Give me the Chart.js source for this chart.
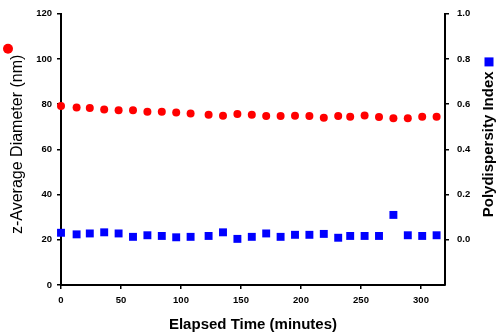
<!DOCTYPE html>
<html>
<head>
<meta charset="utf-8">
<script src="https://cdn.jsdelivr.net/npm/chart.js@4/dist/chart.umd.min.js"></script>
<style>
  html, body { margin: 0; padding: 0; background: #fff; }
  #wrap { width: 500px; height: 336px; position: relative; }
</style>
</head>
<body>
<div id="wrap"><canvas id="c" width="500" height="336"></canvas></div>
<script>
// Elapsed time of each measurement (minutes)
const elapsedMinutes = [0, 13, 24, 36, 48, 60, 72, 84, 96, 108, 123, 135, 147, 159, 171, 183, 195, 207, 219, 231, 241, 253, 265, 277, 289, 301, 313];
// z-average hydrodynamic diameter (nm)
const zAverageNm = [79.2, 78.5, 78.3, 77.6, 77.3, 77.3, 76.6, 76.6, 76.3, 75.9, 75.3, 74.9, 75.6, 75.3, 74.7, 74.7, 74.9, 74.7, 74.0, 74.7, 74.4, 75.0, 74.3, 73.8, 73.8, 74.4, 74.4];
// Polydispersity index
const polyIndex = [0.031, 0.024, 0.028, 0.033, 0.028, 0.013, 0.020, 0.017, 0.011, 0.013, 0.017, 0.033, 0.004, 0.013, 0.028, 0.013, 0.022, 0.022, 0.026, 0.009, 0.017, 0.017, 0.017, 0.110, 0.020, 0.017, 0.020];

// Axis ticks
const timeTicks = [0, 50, 100, 150, 200, 250, 300];
const diameterTicks = [0, 20, 40, 60, 80, 100, 120];
const pdiTicks = [0.0, 0.2, 0.4, 0.6, 0.8, 1.0];

const xTitle = 'Elapsed Time (minutes)';
const leftTitle = 'z-Average Diameter (nm)';
const rightTitle = 'Polydispersity Index';

const FONT = "'Liberation Sans', Arial, Helvetica, sans-serif";
Chart.defaults.font.family = FONT;
Chart.defaults.color = '#000';

const toPoints = (xs, ys) => xs.map((x, i) => ({ x: x, y: ys[i] }));

// Rotated side titles with their series markers
const sideTitles = {
  id: 'sideTitles',
  afterDraw(chart) {
    const ctx = chart.ctx;
    const area = chart.chartArea;
    const cy = (area.top + area.bottom) / 2 - 5;
    ctx.save();
    ctx.fillStyle = '#000';
    ctx.textAlign = 'center';
    ctx.textBaseline = 'middle';

    // left title + red circle marker
    ctx.font = '16px ' + FONT;
    const lw = ctx.measureText(leftTitle).width;
    ctx.save();
    ctx.translate(18, cy);
    ctx.rotate(-Math.PI / 2);
    ctx.fillText(leftTitle, 0, 0);
    ctx.restore();
    ctx.fillStyle = '#ff0000';
    ctx.beginPath();
    ctx.arc(8, cy - lw / 2 - 6, 5, 0, Math.PI * 2);
    ctx.fill();

    // right title + blue square marker
    ctx.fillStyle = '#000';
    ctx.font = 'bold 15px ' + FONT;
    const rw = ctx.measureText(rightTitle).width;
    ctx.save();
    ctx.translate(489, cy);
    ctx.rotate(-Math.PI / 2);
    ctx.fillText(rightTitle, 0, 0);
    ctx.restore();
    ctx.fillStyle = '#0000ff';
    ctx.fillRect(489 - 4.5, cy - rw / 2 - 14, 9, 9);
    ctx.restore();
  }
};

const axisGrid = { display: true, drawOnChartArea: false, drawTicks: true, tickLength: 4, color: '#000', lineWidth: 1.5 };
const axisBorder = { display: true, color: '#000', width: 2 };
const tickFont = { size: 9.5, weight: 'bold' };

new Chart(document.getElementById('c'), {
  type: 'scatter',
  data: {
    datasets: [
      {
        label: leftTitle,
        data: toPoints(elapsedMinutes, zAverageNm),
        yAxisID: 'y',
        pointStyle: 'circle',
        pointRadius: 4,
        pointHoverRadius: 4,
        backgroundColor: '#ff0000',
        borderWidth: 0,
        clip: false
      },
      {
        label: rightTitle,
        data: toPoints(elapsedMinutes, polyIndex),
        yAxisID: 'y1',
        pointStyle: 'rect',
        pointRadius: 5.6,
        pointHoverRadius: 5.6,
        backgroundColor: '#0000ff',
        borderWidth: 0,
        clip: false
      }
    ]
  },
  options: {
    responsive: false,
    animation: false,
    events: [],
    layout: { padding: { top: 10, left: 0, right: 0, bottom: 0 } },
    plugins: { legend: { display: false }, tooltip: { enabled: false } },
    scales: {
      x: {
        type: 'linear',
        position: 'bottom',
        min: 0,
        max: 320,
        grid: axisGrid,
        border: axisBorder,
        afterBuildTicks: s => { s.ticks = timeTicks.map(v => ({ value: v })); },
        afterFit: s => { s.height = 51; },
        ticks: { font: tickFont, padding: 6, maxRotation: 0, autoSkip: false },
        title: { display: true, text: xTitle, font: { size: 15, weight: 'bold' }, padding: { top: 0, bottom: 2 } }
      },
      y: {
        type: 'linear',
        position: 'left',
        min: 0,
        max: 120,
        grid: axisGrid,
        border: axisBorder,
        afterBuildTicks: s => { s.ticks = diameterTicks.map(v => ({ value: v })); },
        afterFit: s => { s.width = 61; },
        ticks: { font: tickFont, padding: 5, autoSkip: false }
      },
      y1: {
        type: 'linear',
        position: 'right',
        min: -0.2,
        max: 1.0,
        grid: axisGrid,
        border: axisBorder,
        afterBuildTicks: s => { s.ticks = pdiTicks.map(v => ({ value: v })); },
        afterFit: s => { s.width = 55; },
        ticks: { font: tickFont, padding: 8, autoSkip: false, callback: v => Number(v).toFixed(1) }
      }
    }
  },
  plugins: [sideTitles]
});
</script>
</body>
</html>
